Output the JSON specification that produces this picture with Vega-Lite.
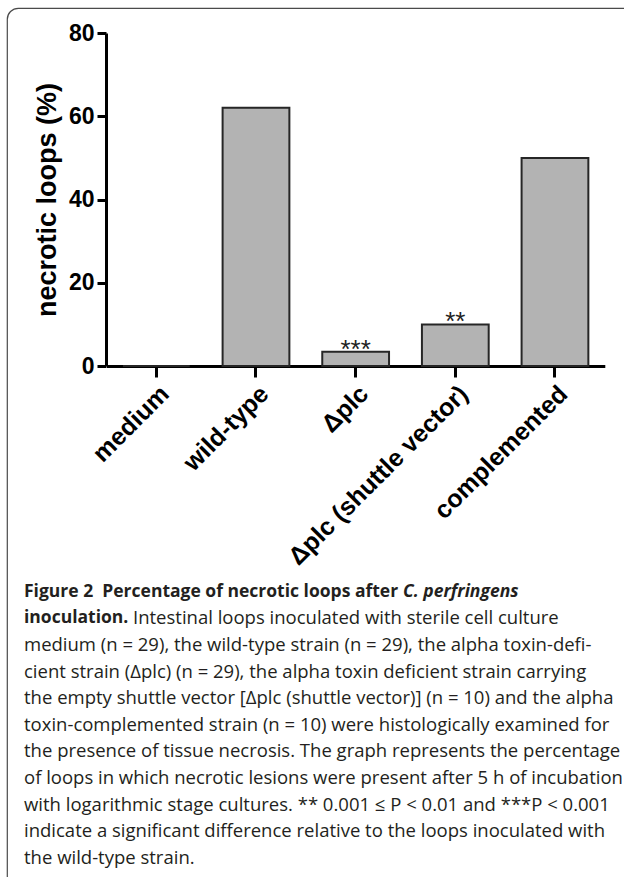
{
  "$schema": "https://vega.github.io/schema/vega-lite/v6.json",
  "width": 627,
  "height": 879,
  "autosize": {"type": "none"},
  "padding": {"left": 7, "top": 8, "right": -10, "bottom": -10},
  "background": "white",
  "view": {"stroke": "#4a4a4a", "strokeWidth": 1.2, "cornerRadius": 11, "fill": "white"},
  "datasets": {
    "bars": [
      {"group": "medium", "value": 0, "sig": ""},
      {"group": "wild-type", "value": 62.07, "sig": ""},
      {"group": "Δplc", "value": 3.45, "sig": "***"},
      {"group": "Δplc (shuttle vector)", "value": 10, "sig": "**"},
      {"group": "complemented", "value": 50, "sig": ""}
    ],
    "caption_head": [
      {"line": 1, "text": "Figure 2\u00a0 Percentage of necrotic loops after"},
      {"line": 2, "text": "inoculation."}
    ],
    "caption_head_italic": [
      {"line": 1, "text": "C. perfringens"}
    ],
    "caption_cont": [
      {"line": 2, "text": "Intestinal loops inoculated with sterile cell culture"}
    ],
    "caption_body": [
      {"line": 3, "text": "medium (n = 29), the wild-type strain (n = 29), the alpha toxin-defi-"},
      {"line": 4, "text": "cient strain (Δplc) (n = 29), the alpha toxin deficient strain carrying"},
      {"line": 5, "text": "the empty shuttle vector [Δplc (shuttle vector)] (n = 10) and the alpha"},
      {"line": 6, "text": "toxin-complemented strain (n = 10) were histologically examined for"},
      {"line": 7, "text": "the presence of tissue necrosis. The graph represents the percentage"},
      {"line": 8, "text": "of loops in which necrotic lesions were present after 5 h of incubation"},
      {"line": 9, "text": "with logarithmic stage cultures. ** 0.001 ≤ P < 0.01 and ***P < 0.001"},
      {"line": 10, "text": "indicate a significant difference relative to the loops inoculated with"},
      {"line": 11, "text": "the wild-type strain."}
    ]
  },
  "layer": [
    {
      "data": {"name": "bars"},
      "layer": [
        {
          "mark": {"type": "bar", "fill": "#b3b3b3", "stroke": "#262626", "strokeWidth": 2},
          "encoding": {
            "x": {
              "field": "group", "type": "nominal", "sort": null,
              "scale": {"range": [99.5, 597.8], "paddingInner": 0.33, "paddingOuter": 0.165},
              "axis": {
                "title": null, "labelAngle": -45, "labelAlign": "right", "labelBaseline": "top",
                "labelFont": "Liberation Sans", "labelFontWeight": "bold", "labelFontSize": 25,
                "labelColor": "black", "labelPadding": 4, "labelLimit": 0,
                "domainColor": "black", "domainWidth": 3,
                "tickColor": "black", "tickWidth": 3, "tickSize": 11,
                "offset": -521
              }
            },
            "y": {
              "field": "value", "type": "quantitative",
              "scale": {"domain": [0, 80], "range": [358, 25], "nice": false},
              "axis": {
                "title": "necrotic loops (%)", "values": [0, 20, 40, 60, 80], "grid": false,
                "labelFont": "Liberation Sans", "labelFontWeight": "bold", "labelFontSize": 23,
                "labelColor": "black", "labelPadding": 3,
                "titleFont": "Liberation Sans", "titleFontWeight": "bold", "titleFontSize": 27,
                "titleColor": "black", "titlePadding": 7,
                "domainColor": "black", "domainWidth": 3,
                "tickColor": "black", "tickWidth": 3, "tickSize": 9,
                "offset": -99
              }
            }
          }
        },
        {
          "mark": {"type": "text", "font": "Liberation Sans", "fontSize": 26, "color": "#222", "baseline": "alphabetic", "dy": 6},
          "encoding": {
            "x": {"field": "group", "type": "nominal", "sort": null},
            "y": {"field": "value", "type": "quantitative"},
            "text": {"field": "sig"}
          }
        }
      ]
    },
    {
      "layer": [
        {
          "data": {"name": "caption_head"},
          "mark": {"type": "text", "align": "left", "baseline": "middle", "font": "Open Sans", "fontWeight": "bold", "fontSize": 17.5, "color": "#231f20"},
          "encoding": {
            "x": {"datum": 0, "type": "quantitative", "scale": {"domain": [0, 1], "range": [17, 600]}, "axis": null},
            "y": {"field": "line", "type": "quantitative", "scale": {"domain": [1, 11], "range": [583.7, 850]}, "axis": null},
            "text": {"field": "text"}
          }
        },
        {
          "data": {"name": "caption_head_italic"},
          "mark": {"type": "text", "align": "left", "baseline": "middle", "font": "Open Sans", "fontWeight": "bold", "fontStyle": "italic", "fontSize": 17.5, "color": "#231f20", "dx": 379},
          "encoding": {
            "x": {"datum": 0, "type": "quantitative", "scale": {"domain": [0, 1], "range": [17, 600]}, "axis": null},
            "y": {"field": "line", "type": "quantitative", "scale": {"domain": [1, 11], "range": [583.7, 850]}, "axis": null},
            "text": {"field": "text"}
          }
        },
        {
          "data": {"name": "caption_cont"},
          "mark": {"type": "text", "align": "left", "baseline": "middle", "font": "Open Sans", "fontSize": 18.5, "color": "#231f20", "dx": 109},
          "encoding": {
            "x": {"datum": 0, "type": "quantitative", "scale": {"domain": [0, 1], "range": [17, 600]}, "axis": null},
            "y": {"field": "line", "type": "quantitative", "scale": {"domain": [1, 11], "range": [583.7, 850]}, "axis": null},
            "text": {"field": "text"}
          }
        },
        {
          "data": {"name": "caption_body"},
          "mark": {"type": "text", "align": "left", "baseline": "middle", "font": "Open Sans", "fontSize": 18.5, "color": "#231f20"},
          "encoding": {
            "x": {"datum": 0, "type": "quantitative", "scale": {"domain": [0, 1], "range": [17, 600]}, "axis": null},
            "y": {"field": "line", "type": "quantitative", "scale": {"domain": [1, 11], "range": [583.7, 850]}, "axis": null},
            "text": {"field": "text"}
          }
        }
      ]
    }
  ],
  "resolve": {"scale": {"x": "independent", "y": "independent"}}
}
